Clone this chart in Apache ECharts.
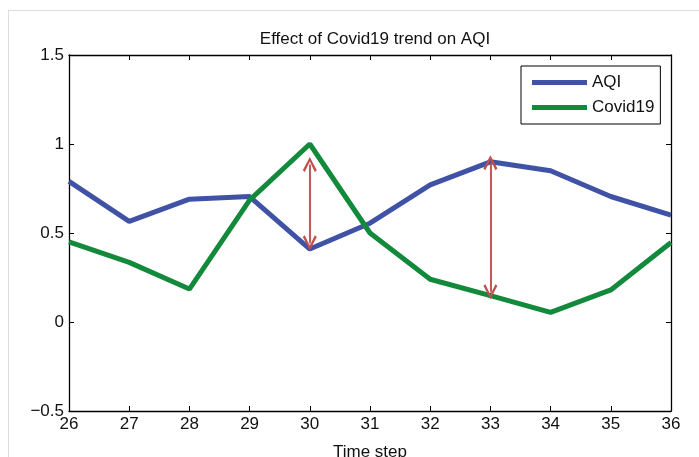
<!DOCTYPE html>
<html>
<head>
<meta charset="utf-8">
<script src="https://cdn.jsdelivr.net/npm/echarts@6/dist/echarts.min.js"></script>
<style>
  html, body { margin: 0; padding: 0; background: #fff; }
  #frame { position: absolute; left: 8px; top: 10px; width: 691px; height: 447px;
           border-left: 1px solid #dcdcdc; border-top: 1px solid #dcdcdc; }
  #chart { position: absolute; left: 0; top: 0; width: 699px; height: 457px; }
</style>
</head>
<body>
<div id="frame"></div>
<div id="chart"></div>
<script>
// time steps on the x axis
var timeSteps = [26, 27, 28, 29, 30, 31, 32, 33, 34, 35, 36]
// normalised values
var aqi     = [0.79, 0.565, 0.69, 0.705, 0.41, 0.555, 0.77, 0.90, 0.85, 0.705, 0.60]
var covid19 = [0.45, 0.335, 0.185, 0.685, 1.0, 0.50, 0.24, 0.148, 0.054, 0.18, 0.447]
// red double arrows showing the gap
var arrowX    = [30, 33]
var arrowLow  = [0.445, 0.17]
var arrowHigh = [0.885, 0.895]

var FONT = '"Liberation Sans", Arial, sans-serif'

function pairs(ys) {
  return timeSteps.map(function (t, i) { return [t, ys[i]] })
}

var arrowLines = arrowX.map(function (x, i) {
  return [{ coord: [x, arrowLow[i]] }, { coord: [x, arrowHigh[i]] }]
})

var chevron = 'path://M0,10 L5,0 L10,10 L8.6,11.2 L5,3.4 L1.4,11.2 Z'

var myChart = echarts.init(document.getElementById('chart'))
var option = {
  animation: false,
  title: {
    text: 'Effect of Covid19 trend on AQI',
    left: 370, top: 26, textAlign: 'center',
    textStyle: { fontFamily: FONT, fontSize: 17, fontWeight: 'normal', color: '#111' }
  },
  legend: {
    orient: 'vertical',
    left: 521, top: 66,
    padding: [8, 6, 8, 11],
    itemGap: 8,
    itemWidth: 55, itemHeight: 5,
    icon: 'rect',
    borderColor: '#000', borderWidth: 1,
    textStyle: { fontFamily: FONT, fontSize: 17, color: '#111' },
    data: ['AQI', 'Covid19']
  },
  grid: { left: 69, right: 28, top: 55, bottom: 46, outerBoundsMode: 'none' },
  xAxis: [{
    type: 'value', min: 26, max: 36, interval: 1,
    name: 'Time step', nameLocation: 'middle', nameGap: 33,
    nameTextStyle: { fontFamily: FONT, fontSize: 17, color: '#111' },
    axisLine: { onZero: false, lineStyle: { color: '#000', width: 1.3 } },
    axisTick: { inside: true, length: 5, lineStyle: { color: '#000' } },
    axisLabel: { fontFamily: FONT, fontSize: 17, color: '#111', margin: 5 },
    splitLine: { show: false }
  }, {
    type: 'value', min: 26, max: 36, interval: 1, position: 'top',
    axisLine: { onZero: false, lineStyle: { color: '#000', width: 1.3 } },
    axisTick: { inside: true, length: 5, lineStyle: { color: '#000' } },
    axisLabel: { show: false },
    splitLine: { show: false }
  }],
  yAxis: [{
    type: 'value', min: -0.5, max: 1.5, interval: 0.5,
    axisLine: { show: true, onZero: false, lineStyle: { color: '#000', width: 1.3 } },
    axisTick: { show: true, inside: true, length: 5, lineStyle: { color: '#000' } },
    axisLabel: {
      fontFamily: FONT, fontSize: 17, color: '#111', margin: 5,
      formatter: function (v) { return String(v).replace('-', '\u2212') }
    },
    splitLine: { show: false }
  }, {
    type: 'value', min: -0.5, max: 1.5, interval: 0.5, position: 'right',
    axisLine: { show: true, onZero: false, lineStyle: { color: '#000', width: 1.3 } },
    axisTick: { show: true, inside: true, length: 5, lineStyle: { color: '#000' } },
    axisLabel: { show: false },
    splitLine: { show: false }
  }],
  series: [
    {
      name: 'AQI', type: 'line', data: pairs(aqi),
      color: '#3f52a6', showSymbol: false, symbol: 'none',
      lineStyle: { width: 5, color: '#3f52a6' }
    },
    {
      name: 'Covid19', type: 'line', data: pairs(covid19),
      color: '#138a3b', showSymbol: false, symbol: 'none',
      lineStyle: { width: 5, color: '#138a3b' },
      markLine: {
        silent: true,
        symbol: [chevron, chevron],
        symbolSize: [14, 15],
        label: { show: false },
        lineStyle: { type: 'solid', color: '#c0504d', width: 1.8,
                     shadowColor: 'rgba(0,0,0,0.3)', shadowBlur: 1, shadowOffsetY: 2 },
        data: arrowLines
      }
    }
  ]
}
myChart.setOption(option)
</script>
</body>
</html>
